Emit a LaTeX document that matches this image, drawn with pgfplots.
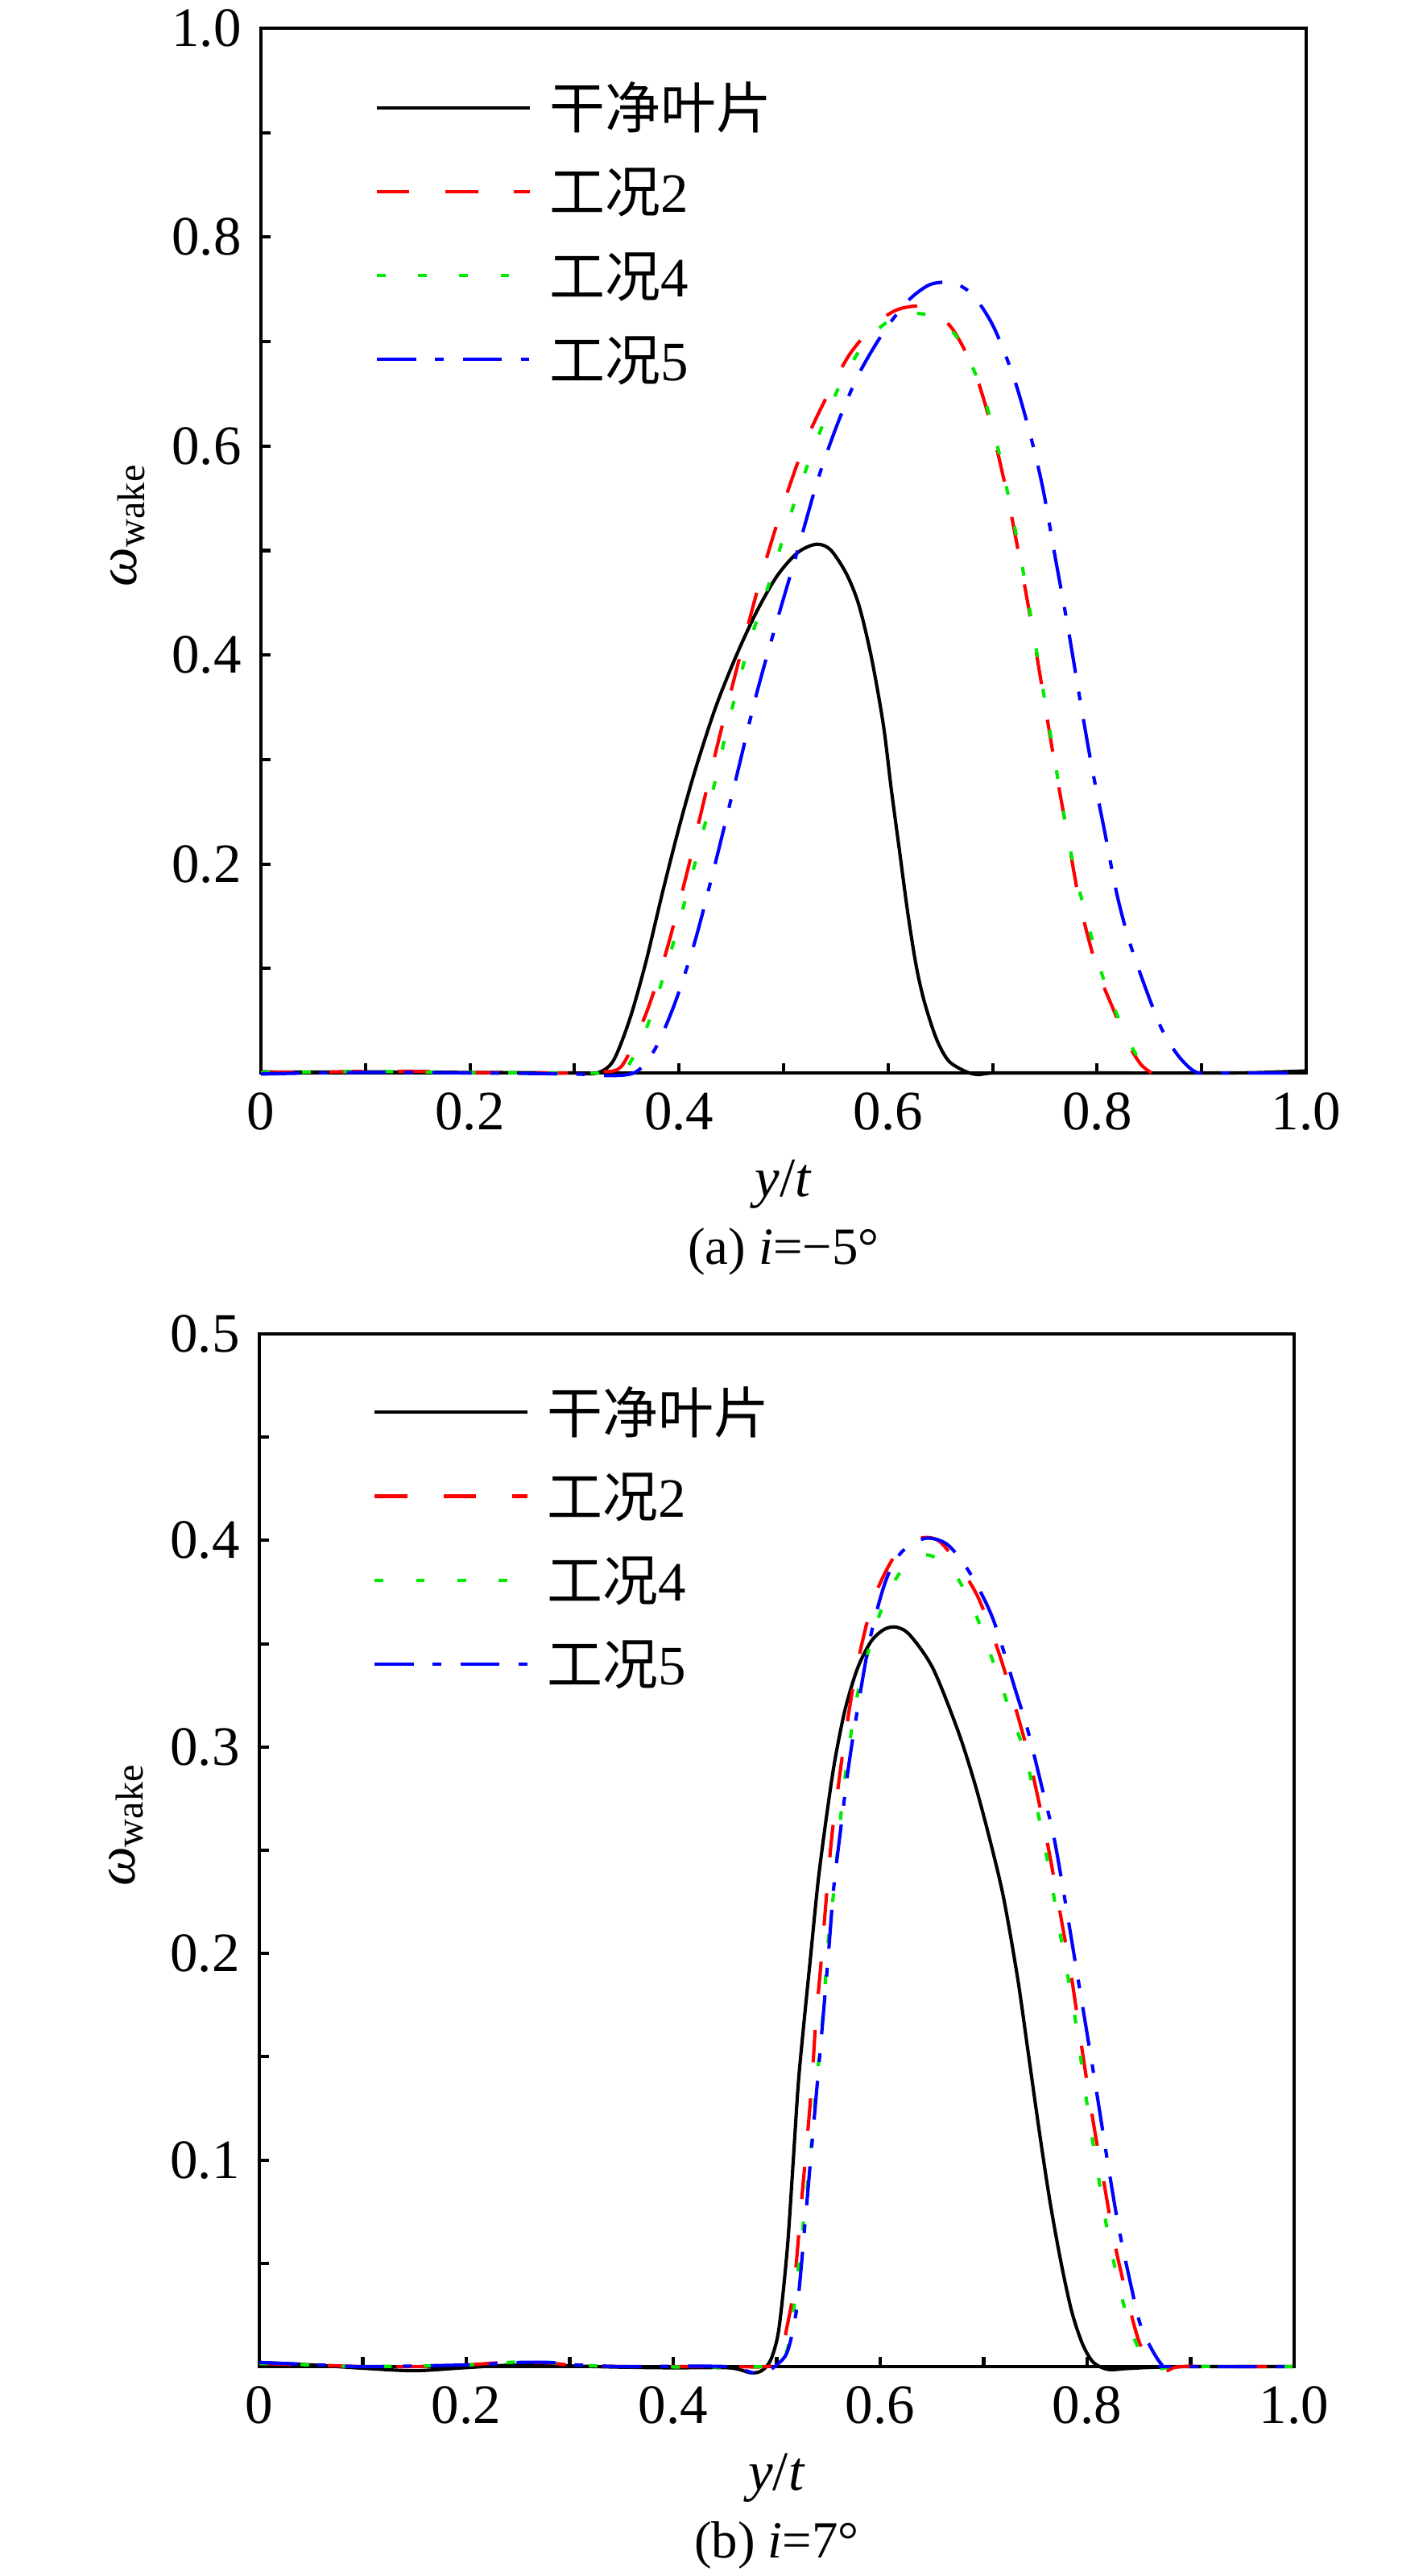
\documentclass[border=0pt]{standalone}
\usepackage{fontspec}
\setmainfont{Liberation Serif}
\newfontfamily\cjk{Noto Sans CJK SC}
\usepackage{pgfplots}
\pgfplotsset{compat=1.18}
\definecolor{cred}{RGB}{255,0,0}
\definecolor{cgreen}{RGB}{0,235,0}
\definecolor{cblue}{RGB}{0,0,255}
\pgfplotsset{
  wakeaxis/.style={
    scale only axis,
    xmin=0, xmax=1, ymin=0,
    clip=false,
    axis line style={line width=0.6pt},
    tick align=inside,
    xtick pos=left, ytick pos=left,
    major tick length=1.75pt, minor tick length=1.75pt,
    tick style={black, line width=0.6pt},
    xtick={0,0.2,0.4,0.6,0.8,1},
    xticklabels={0,0.2,0.4,0.6,0.8,1.0},
    minor xtick={0.1,0.3,0.5,0.7,0.9},
    /pgf/number format/assume math mode=true,
    xlabel={\textit{y}/\textit{t}},
    ylabel={\textit{ω}\textsubscript{wake}},
    xlabel style={at={(axis description cs:0.5,0)}, anchor=base, yshift=-22.2pt},
    legend cell align=left,
    legend image code/.code={\draw[#1] (0pt,0pt) -- (27.55pt,0pt);},
    legend style={anchor=north west, draw=none, fill=none, inner sep=0pt, outer sep=0pt,
      row sep=3.6pt,
      nodes={inner xsep=3.2pt, inner ysep=0pt, text height=9.5pt, text depth=2pt}},
  },
  cblack/.style={black, line width=0.6pt, smooth, tension=0.5},
  c2/.style={cred, line width=0.6pt, smooth, tension=0.5, dash pattern=on 5.85pt off 6.5pt},
  c4/.style={cgreen, line width=0.6pt, smooth, tension=0.5, dash pattern=on 1.57pt off 5.85pt},
  c5/.style={cblue, line width=0.6pt, smooth, tension=0.5, dash pattern=on 7.03pt off 3.4pt on 1.57pt off 3.45pt},
}
\begin{document}
\begin{tikzpicture}[font=\fontsize{10}{12}\selectfont]
\useasboundingbox (0,0) rectangle (256.94pt,-463.71pt);
% ---------------- (a) ----------------
\begin{axis}[wakeaxis, name=top,
  at={(46.98pt,-5.075pt)}, anchor=north west,
  width=188.21pt, height=188.07pt,
  ymax=1,
  ytick={0.2,0.4,0.6,0.8,1.0}, yticklabels={0.2,0.4,0.6,0.8,1.0},
  minor ytick={0.1,0.3,0.5,0.7,0.9},
  ylabel style={at={(axis description cs:-0.1194,0.525)}, anchor=base},
  legend style={at={(axis description cs:0.1094,0.9543)}},
]
\addplot[cblack] coordinates {
(0,0.001) (0.05,0.0008) (0.1,0.001) (0.15,0.0008) (0.2,0.0005) (0.25,0.0003) (0.3,0.0)
(0.3215,0.0) (0.337,0.0115) (0.353,0.052) (0.3685,0.107) (0.384,0.172) (0.4,0.235)
(0.4155,0.290) (0.435,0.350) (0.455,0.400) (0.4745,0.442) (0.494,0.476) (0.5134,0.498)
(0.531,0.506) (0.5447,0.501) (0.56,0.478) (0.572,0.448) (0.584,0.398) (0.5955,0.333)
(0.603,0.272) (0.611,0.212) (0.619,0.152) (0.627,0.102) (0.635,0.067) (0.6465,0.032)
(0.658,0.0115) (0.674,0.0015) (0.6857,-0.0015) (0.701,0.0) (0.75,0.0) (0.8,0.0)
(0.9,0.0) (0.95,0.0003) (1.0,0.002)};
\addlegendentry{{\cjk 干净叶片}}
\addplot[c2] coordinates {
(0,0.0005) (0.05,0.0008) (0.1,0.0015) (0.15,0.0015) (0.2,0.0005) (0.25,0.0) (0.3,0.0)
(0.3215,0.0015) (0.345,0.0065) (0.3685,0.057) (0.388,0.117) (0.4077,0.192) (0.4194,0.242)
(0.439,0.323) (0.4586,0.400) (0.478,0.473) (0.4977,0.538) (0.521,0.604) (0.5447,0.654)
(0.564,0.689) (0.5878,0.7165) (0.6074,0.73) (0.627,0.734) (0.6426,0.73) (0.662,0.7115)
(0.6817,0.674) (0.6974,0.624) (0.713,0.558) (0.7248,0.498) (0.7366,0.433) (0.7483,0.363)
(0.76,0.2925) (0.7718,0.227) (0.7835,0.162) (0.7992,0.102) (0.815,0.062) (0.8305,0.0266)
(0.842,0.008) (0.852,0.0)};
\addlegendentry{{\cjk 工况}2}
\addplot[c4] coordinates {
(0,0.0005) (0.05,0.001) (0.1,0.0015) (0.15,0.001) (0.2,0.0005) (0.3,0.0) (0.33,0.0)
(0.349,0.004) (0.3685,0.042) (0.388,0.102) (0.4077,0.172) (0.427,0.247) (0.4468,0.333)
(0.4664,0.408) (0.486,0.468) (0.5095,0.543) (0.533,0.609) (0.5565,0.664) (0.58,0.7015)
(0.6035,0.7215) (0.627,0.727) (0.6466,0.722) (0.666,0.704) (0.6857,0.664) (0.7013,0.614)
(0.717,0.543) (0.7287,0.483) (0.7405,0.413) (0.7522,0.343) (0.764,0.272) (0.7757,0.207)
(0.7914,0.142) (0.807,0.087) (0.8227,0.047) (0.838,0.0166) (0.854,0.0015) (0.86,0.0)};
\addlegendentry{{\cjk 工况}4}
\addplot[c5] coordinates {
(0,-0.001) (0.05,0.0) (0.1,0.0005) (0.15,0.0005) (0.2,0.0) (0.3,-0.001) (0.3215,-0.0025)
(0.3568,0.0) (0.3763,0.0216) (0.396,0.0667) (0.4155,0.127) (0.435,0.202) (0.4547,0.2825)
(0.4742,0.363) (0.4938,0.433) (0.5134,0.500) (0.533,0.5685) (0.5525,0.6237) (0.572,0.669)
(0.5956,0.709) (0.619,0.739) (0.6387,0.754) (0.655,0.757) (0.666,0.755) (0.6817,0.744)
(0.701,0.714) (0.7208,0.664) (0.7366,0.6086) (0.7483,0.5585) (0.76,0.493) (0.7718,0.428)
(0.7835,0.358) (0.795,0.2925) (0.807,0.232) (0.8187,0.172) (0.8305,0.127) (0.846,0.082)
(0.862,0.0416) (0.8775,0.0166) (0.8932,0.0015) (0.91,0.0) (1.0,0.0)};
\addlegendentry{{\cjk 工况}5}
\end{axis}
\node[anchor=base, font=\fontsize{9.4}{11}\selectfont] at ([yshift=-34.5pt]top.south) {(a) \textit{i}=−5°};
% ---------------- (b) ----------------
\begin{axis}[wakeaxis, name=bot,
  at={(46.69pt,-240.12pt)}, anchor=north west,
  width=186.33pt, height=185.89pt,
  ymax=0.5,
  ytick={0.1,0.2,0.3,0.4,0.5}, yticklabels={0.1,0.2,0.3,0.4,0.5},
  minor ytick={0.05,0.15,0.25,0.35,0.45},
  ylabel style={at={(axis description cs:-0.1206,0.525)}, anchor=base},
  legend style={at={(axis description cs:0.11,0.955)}},
]
\addplot[cblack] coordinates {
(0,0.002) (0.05,0.0008) (0.1,-0.0008) (0.15,-0.002) (0.2,-0.0005) (0.25,0.0008) (0.3,0.0003)
(0.35,-0.0003) (0.4,-0.0006) (0.454,-0.0006) (0.475,-0.003) (0.4854,-0.002) (0.494,0.003)
(0.501,0.0149) (0.506,0.035) (0.511,0.062) (0.516,0.100) (0.521,0.138) (0.527,0.170)
(0.533,0.200) (0.540,0.235) (0.548,0.266) (0.556,0.293) (0.566,0.318) (0.578,0.338)
(0.591,0.351) (0.604,0.357) (0.616,0.358) (0.629,0.354) (0.651,0.338) (0.675,0.308)
(0.691,0.283) (0.705,0.257) (0.719,0.2275) (0.7328,0.188) (0.743,0.152) (0.7537,0.114)
(0.764,0.080) (0.7746,0.0507) (0.785,0.0268) (0.7955,0.0109) (0.806,0.002) (0.82,-0.0014)
(0.837,-0.001) (0.8617,-0.0004) (0.9,0.0) (0.95,0.0) (1.0,0.0)};
\addlegendentry{{\cjk 干净叶片}}
\addplot[c2] coordinates {
(0,0.0015) (0.05,0.0008) (0.1,0.0) (0.15,0.0) (0.2,0.0008) (0.23,0.0018) (0.25,0.002)
(0.28,0.0018) (0.3,0.0008) (0.35,0.0) (0.4,0.0) (0.45,0.0) (0.49,0.0) (0.5028,0.003)
(0.5098,0.0189) (0.5167,0.0387) (0.5237,0.0785) (0.529,0.108) (0.534,0.138) (0.5376,0.166)
(0.5429,0.196) (0.548,0.2275) (0.5533,0.257) (0.56,0.283) (0.5655,0.303) (0.577,0.338)
(0.594,0.372) (0.616,0.394) (0.638,0.401) (0.656,0.4) (0.673,0.39) (0.695,0.372)
(0.717,0.342) (0.7397,0.303) (0.75,0.281) (0.7624,0.2513) (0.7746,0.2176) (0.785,0.188)
(0.7955,0.152) (0.806,0.118) (0.8164,0.0884) (0.827,0.0586) (0.8408,0.0288) (0.851,0.0109)
(0.8617,0.003) (0.8756,-0.002) (0.89,0.0) (0.95,0.0) (1.0,0.0)};
\addlegendentry{{\cjk 工况}2}
\addplot[c4] coordinates {
(0,0.0015) (0.05,0.0008) (0.1,0.0) (0.2,0.0008) (0.25,0.0022) (0.28,0.002) (0.3,0.001)
(0.35,0.0) (0.49,0.0) (0.505,0.003) (0.5132,0.0149) (0.522,0.0527) (0.5307,0.0924)
(0.5376,0.132) (0.5446,0.17) (0.55,0.2076) (0.555,0.2295) (0.562,0.267) (0.569,0.297)
(0.58,0.33) (0.60,0.365) (0.62,0.385) (0.645,0.393) (0.67,0.385) (0.69,0.367) (0.71,0.340)
(0.725,0.318) (0.7397,0.297) (0.75,0.274) (0.7624,0.243) (0.7746,0.2076) (0.7885,0.168)
(0.799,0.130) (0.8094,0.0964) (0.82,0.0646) (0.8338,0.0328) (0.8477,0.0109) (0.8617,0.001)
(0.872,-0.001) (0.89,0.0) (1.0,0.0)};
\addlegendentry{{\cjk 工况}4}
\addplot[c5] coordinates {
(0,0.002) (0.05,0.001) (0.1,0.0) (0.2,0.0008) (0.25,0.002) (0.28,0.002) (0.3,0.001)
(0.35,0.0) (0.45,0.0) (0.4836,-0.0036) (0.5028,0.002) (0.5115,0.009) (0.5202,0.031)
(0.5272,0.0685) (0.5324,0.0983) (0.5376,0.128) (0.5446,0.168) (0.55,0.2) (0.555,0.2315)
(0.562,0.261) (0.569,0.289) (0.577,0.315) (0.59,0.352) (0.605,0.380) (0.62,0.394)
(0.643,0.401) (0.665,0.398) (0.687,0.384) (0.709,0.362) (0.731,0.327) (0.7432,0.307)
(0.757,0.279) (0.7676,0.257) (0.778,0.2275) (0.7885,0.1957) (0.799,0.164) (0.8094,0.132)
(0.82,0.0983) (0.830,0.0685) (0.8408,0.0427) (0.851,0.0209) (0.8617,0.009) (0.872,0.001)
(0.88,0.0) (1.0,0.0)};
\addlegendentry{{\cjk 工况}5}
\end{axis}
\node[anchor=base, font=\fontsize{9.4}{11}\selectfont] at ([yshift=-34.5pt]bot.south) {(b) \textit{i}=7°};
\end{tikzpicture}
\end{document}
